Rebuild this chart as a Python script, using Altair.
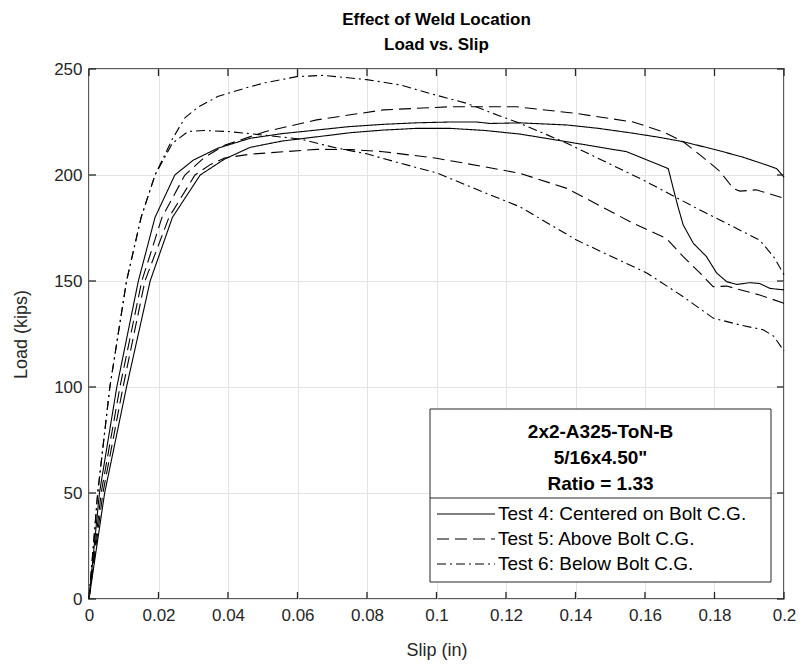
import altair as alt
import pandas as pd

# ---------------- data ----------------
tests = ["Test 4: Centered on Bolt C.G.", "Test 5: Above Bolt C.G.", "Test 6: Below Bolt C.G."]

t4a_x = [0, 0.003, 0.008, 0.0142, 0.019, 0.0247, 0.030, 0.037, 0.0463, 0.0555, 0.0655, 0.0747, 0.0847, 0.094,
         0.1039, 0.1116, 0.1154, 0.124, 0.1375, 0.1466, 0.1566, 0.164, 0.171, 0.1806, 0.188, 0.195, 0.1979, 0.2]
t4a_y = [0, 50, 100, 150, 180, 200, 207, 212.6, 217.3, 219.5, 221.2, 222.8, 223.9, 224.6,
         225, 225, 224.3, 224.6, 223.6, 222, 219.7, 217.8, 215.7, 211.8, 208.5, 204.7, 203, 199]

t4b_x = [0, 0.0045, 0.0108, 0.0176, 0.024, 0.032, 0.039, 0.0463, 0.0555, 0.0655, 0.0755, 0.0847, 0.0943, 0.1039,
         0.114, 0.124, 0.1375, 0.1547, 0.1667, 0.168, 0.1695, 0.171, 0.1739, 0.1777, 0.1806, 0.1835, 0.1864,
         0.1902, 0.193, 0.196, 0.2]
t4b_y = [0, 50, 100, 150, 180, 200, 207.5, 213, 216, 218, 220, 221.2, 222, 222,
         221, 219.3, 215.7, 211, 203, 194.5, 185, 176.4, 167.8, 161.5, 153.8, 149.7, 148.4,
         149.2, 148.8, 146.5, 145.8]

t5a_x = [0, 0.0035, 0.0089, 0.0152, 0.021, 0.0276, 0.033, 0.039, 0.0506, 0.0655, 0.0847, 0.1039, 0.123, 0.1403,
         0.1566, 0.1652, 0.171, 0.1777, 0.1816, 0.1854, 0.1873, 0.192, 0.2]
t5a_y = [0, 50, 100, 150, 180, 200, 208, 214, 220.4, 226, 230.7, 232.2, 232.2, 229,
         225, 220.4, 215.7, 207, 201.6, 193.7, 192.4, 193, 189]

t5b_x = [0, 0.004, 0.0098, 0.0161, 0.023, 0.0305, 0.035, 0.039, 0.0463, 0.0655, 0.0751, 0.0847, 0.1, 0.1134,
         0.124, 0.1375, 0.1566, 0.1662, 0.171, 0.1758, 0.1796, 0.1835, 0.193, 0.2]
t5b_y = [0, 50, 100, 150, 180, 200, 205, 208, 209.8, 212.1, 212, 211, 207.9, 204,
         200.8, 193.7, 177.2, 170, 161.5, 153.8, 147.3, 147.6, 143.4, 139.5]

t6a_x = [0, 0.0025, 0.006, 0.0108, 0.015, 0.019, 0.024, 0.0276, 0.0314, 0.037, 0.045, 0.0506, 0.0598, 0.0674,
         0.0799, 0.0895, 0.098, 0.1087, 0.118, 0.124, 0.1375, 0.1595, 0.1758, 0.193, 0.197, 0.2]
t6a_y = [0, 50, 100, 150, 180, 200, 217, 227, 232, 237, 241, 243.5, 246.4, 247,
         245, 242.5, 238.5, 233.8, 228, 224.4, 215, 197.6, 183.5, 169.3, 161.5, 153]

t6b_x = [0, 0.0025, 0.006, 0.0108, 0.015, 0.019, 0.024, 0.0285, 0.033, 0.04, 0.0463, 0.0607, 0.0713, 0.0799,
         0.0895, 0.1, 0.1134, 0.124, 0.1403, 0.1605, 0.171, 0.1796, 0.188, 0.194, 0.197, 0.2]
t6b_y = [0, 50, 100, 150, 180, 200, 215, 220.5, 221, 220.5, 219.5, 217, 212.7, 210,
         205.6, 201, 192, 185, 169.3, 153.8, 142.6, 132.5, 129, 127, 124, 117]

x_ticks = [0, 0.02, 0.04, 0.06, 0.08, 0.1, 0.12, 0.14, 0.16, 0.18, 0.2]
y_ticks = [0, 50, 100, 150, 200, 250]

legend_title_lines = ["2x2-A325-ToN-B", '5/16x4.50"', "Ratio = 1.33"]
chart_title = ["Effect of Weld Location", "Load vs. Slip"]

# ---------------- build table ----------------
series = [
    (tests[0], "4a", t4a_x, t4a_y), (tests[0], "4b", t4b_x, t4b_y),
    (tests[1], "5a", t5a_x, t5a_y), (tests[1], "5b", t5b_x, t5b_y),
    (tests[2], "6a", t6a_x, t6a_y), (tests[2], "6b", t6b_x, t6b_y),
]
rows = []
for test, spec, xs, ys in series:
    for i, (xv, yv) in enumerate(zip(xs, ys)):
        rows.append({"test": test, "specimen": spec, "slip": xv, "load": yv, "i": i})
df = pd.DataFrame(rows)

W, H = 695, 530
FONT = "Liberation Sans"
DARK = "#262626"
dashes = [[1, 0], [12, 6], [9, 4, 2, 4]]

xscale = alt.Scale(domain=[0, 0.2], nice=False, zero=False)
yscale = alt.Scale(domain=[0, 250], nice=False)
xaxis = alt.Axis(values=x_ticks, format="~g", title="Slip (in)", grid=True, ticks=False,
                 domain=False, labelPadding=8, titlePadding=18, labelFlush=False)
yaxis = alt.Axis(values=y_ticks, title="Load (kips)", grid=True, ticks=False,
                 domain=False, labelPadding=7, titlePadding=23, labelFlush=False)

lines = alt.Chart(df).mark_line(color="black", strokeWidth=1.1).encode(
    x=alt.X("slip:Q", scale=xscale, axis=xaxis),
    y=alt.Y("load:Q", scale=yscale, axis=yaxis),
    strokeDash=alt.StrokeDash("test:N", scale=alt.Scale(domain=tests, range=dashes), legend=None),
    detail="specimen:N",
    order="i:Q",
)

xt = pd.DataFrame({"t": x_ticks})
yt = pd.DataFrame({"t": y_ticks})
TL = 7
tick_bot = alt.Chart(xt).mark_rule(color=DARK, strokeWidth=1.3).encode(
    x=alt.X("t:Q", scale=xscale, axis=xaxis), y=alt.value(H), y2=alt.value(H - TL))
tick_top = alt.Chart(xt).mark_rule(color=DARK, strokeWidth=1.3).encode(
    x=alt.X("t:Q", scale=xscale, axis=xaxis), y=alt.value(0), y2=alt.value(TL))
tick_left = alt.Chart(yt).mark_rule(color=DARK, strokeWidth=1.3).encode(
    y=alt.Y("t:Q", scale=yscale, axis=yaxis), x=alt.value(0), x2=alt.value(TL))
tick_right = alt.Chart(yt).mark_rule(color=DARK, strokeWidth=1.3).encode(
    y=alt.Y("t:Q", scale=yscale, axis=yaxis), x=alt.value(W), x2=alt.value(W - TL))

# ---------------- legend box (decoration) ----------------
one = pd.DataFrame({"a": [0]})
BX0, BX1, BY0, BY1, SEP = 341, 682, 340, 513, 429
box = alt.Chart(one).mark_rect(fill="white", stroke=DARK, strokeWidth=1).encode(
    x=alt.value(BX0), x2=alt.value(BX1), y=alt.value(BY0), y2=alt.value(BY1))
sep = alt.Chart(one).mark_rule(color=DARK, strokeWidth=1).encode(
    x=alt.value(BX0), x2=alt.value(BX1), y=alt.value(SEP))

layers = [lines, tick_bot, tick_top, tick_left, tick_right, box, sep]
title_y = [363, 389, 415]
for txt, yy in zip(legend_title_lines, title_y):
    layers.append(alt.Chart(one).mark_text(font=FONT, fontSize=19, fontWeight="bold", color="black",
                                           align="center", baseline="middle").encode(
        x=alt.value((BX0 + BX1) / 2), y=alt.value(yy), text=alt.value(txt)))
entry_y = [445, 470, 495]
for test, dsh, yy in zip(tests, dashes, entry_y):
    layers.append(alt.Chart(one).mark_rule(color="black", strokeWidth=1.1, strokeDash=dsh).encode(
        x=alt.value(348), x2=alt.value(406), y=alt.value(yy)))
    layers.append(alt.Chart(one).mark_text(font=FONT, fontSize=19, color="black",
                                           align="left", baseline="middle").encode(
        x=alt.value(409), y=alt.value(yy), text=alt.value(test)))

chart = alt.layer(*layers).properties(
    width=W, height=H,
    background="white",
    autosize=alt.AutoSizeParams(type="none"),
    padding={"left": 89, "top": 69, "right": 19, "bottom": 69},
    title=alt.Title(chart_title, font=FONT, fontSize=17, fontWeight="bold", color="black",
                    anchor="middle", offset=6, lineHeight=25),
).configure_view(stroke=DARK, strokeWidth=1.5).configure_axis(
    labelFont=FONT, labelFontSize=17, labelColor=DARK,
    titleFont=FONT, titleFontSize=18, titleColor=DARK, titleFontWeight="normal",
    gridColor="#e3e3e3", gridWidth=1,
)

chart.save("out.html", embed_options={"renderer": "svg", "actions": False})
